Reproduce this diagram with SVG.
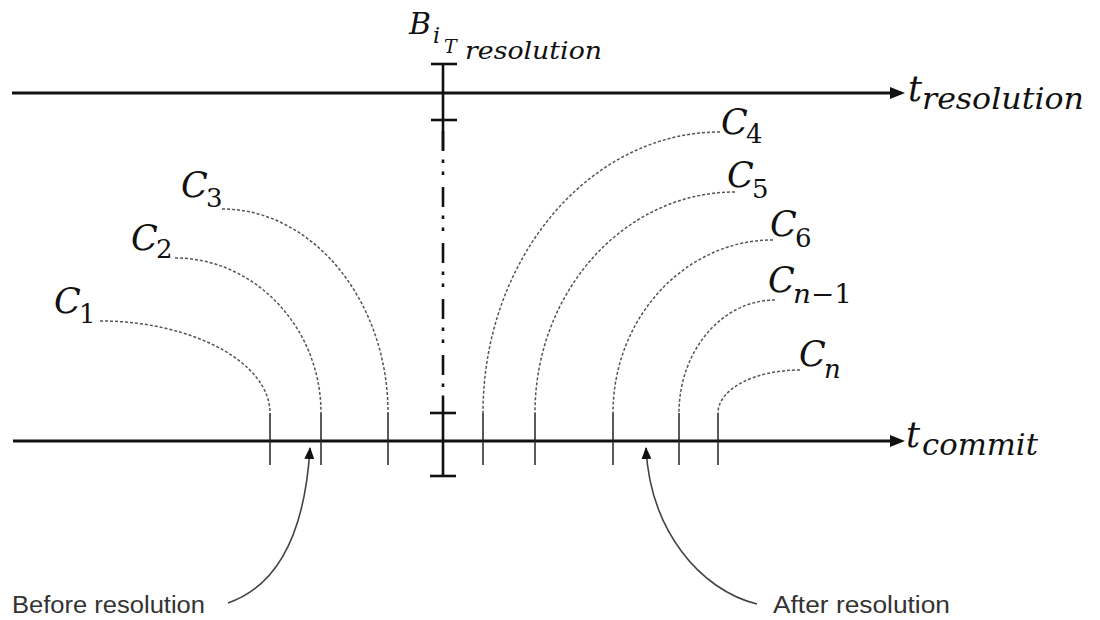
<svg xmlns="http://www.w3.org/2000/svg" width="1100" height="620" viewBox="0 0 1100 620">
<defs>
<style>
.m{font-family:"DejaVu Serif","Liberation Serif",serif;font-style:italic;fill:#111}
.d{font-family:"DejaVu Serif","Liberation Serif",serif;fill:#111}
.lbl{font-family:"Liberation Sans","Open Sans",sans-serif;font-size:23px;fill:#333}
.axis{stroke:#111;stroke-width:3;fill:none}
.bar{stroke:#111;stroke-width:2.6;fill:none}
.tick{stroke:#222;stroke-width:1.5;fill:none}
.cur{stroke:#555;stroke-width:1.5;stroke-dasharray:3 2;fill:none}
.call{stroke:#444;stroke-width:1.6;fill:none}
</style>
<marker id="ah" viewBox="0 0 12 10" refX="11" refY="5" markerWidth="12" markerHeight="10" markerUnits="userSpaceOnUse" orient="auto">
<path d="M0,0 L12,5 L0,10 z" fill="#111"/>
</marker>
</defs>
<rect width="1100" height="620" fill="#fff"/>

<g id="axis-resolution">
<line class="axis" x1="12" y1="93" x2="892" y2="93"/>
<polygon points="890,87 905,93 890,99" fill="#111"/>
<text class="m" x="908" y="101" font-size="35">t</text>
<text class="m" x="922" y="109" font-size="30" textLength="162" lengthAdjust="spacingAndGlyphs">resolution</text>
</g>

<g id="axis-commit">
<line class="axis" x1="13" y1="441" x2="892" y2="441"/>
<polygon points="890,435 905,441 890,447" fill="#111"/>
<text class="m" x="906" y="447" font-size="35">t</text>
<text class="m" x="922" y="455" font-size="30" textLength="116" lengthAdjust="spacingAndGlyphs">commit</text>
</g>

<g id="block-resolution">
<line class="bar" x1="443" y1="63" x2="443" y2="150"/>
<line class="bar" x1="443" y1="131" x2="443" y2="398" stroke-dasharray="20 8.5 3.5 8.5 3.5 12"/>
<line class="bar" x1="443" y1="398" x2="443" y2="477"/>
<line class="bar" x1="431" y1="64" x2="457" y2="64"/>
<line class="bar" x1="431" y1="120" x2="457" y2="120"/>
<line class="bar" x1="430" y1="413" x2="456" y2="413"/>
<line class="bar" x1="430" y1="476" x2="456" y2="476"/>
<text class="m" x="409" y="34" font-size="30">B</text>
<text class="m" x="433" y="43" font-size="22">i</text>
<text class="m" x="444" y="53" font-size="19">T</text>
<text class="m" x="465" y="59" font-size="25" textLength="137" lengthAdjust="spacingAndGlyphs">resolution</text>
</g>

<g id="connectors">
<path class="cur" d="M100,321 C193,321 270,363 270,413"/>
<path class="cur" d="M175,258 C255,258 321,328 321,413"/>
<path class="cur" d="M222,209 C313,209 388,301 388,413"/>
<path class="cur" d="M720,132 C590,132 483,258 483,413"/>
<path class="cur" d="M735,192 C625,192 535,291 535,413"/>
<path class="cur" d="M773,240 C685,240 613,318 613,413"/>
<path class="cur" d="M775,300 C722,300 679,351 679,413"/>
<path class="cur" d="M800,370 C755,370 718,389 718,413"/>
<line class="tick" x1="270" y1="413" x2="270" y2="465"/>
<line class="tick" x1="321" y1="413" x2="321" y2="465"/>
<line class="tick" x1="388" y1="413" x2="388" y2="465"/>
<line class="tick" x1="483" y1="413" x2="483" y2="465"/>
<line class="tick" x1="535" y1="413" x2="535" y2="465"/>
<line class="tick" x1="613" y1="413" x2="613" y2="465"/>
<line class="tick" x1="679" y1="413" x2="679" y2="465"/>
<line class="tick" x1="718" y1="413" x2="718" y2="465"/>
<path class="call" d="M228,603 C280,585 305,530 310,448" marker-end="url(#ah)"/>
<path class="call" d="M757,604 C700,590 650,530 646,448" marker-end="url(#ah)"/>
</g>

<g id="c1"><text class="m" x="54" y="313" font-size="35">C</text><text class="d" x="79" y="323" font-size="26">1</text></g>
<g id="c2"><text class="m" x="131" y="250" font-size="35">C</text><text class="d" x="156" y="258" font-size="26">2</text></g>
<g id="c3"><text class="m" x="181" y="197" font-size="35">C</text><text class="d" x="206" y="207" font-size="26">3</text></g>
<g id="c4"><text class="m" x="721" y="134" font-size="35">C</text><text class="d" x="746" y="143" font-size="26">4</text></g>
<g id="c5"><text class="m" x="727" y="187" font-size="35">C</text><text class="d" x="752" y="198" font-size="26">5</text></g>
<g id="c6"><text class="m" x="770" y="236" font-size="35">C</text><text class="d" x="795" y="247" font-size="26">6</text></g>
<g id="cn1"><text class="m" x="768" y="292" font-size="35">C</text><text x="793" y="303" font-size="26" textLength="59" lengthAdjust="spacingAndGlyphs"><tspan class="m">n</tspan><tspan class="d">−1</tspan></text></g>
<g id="cn"><text class="m" x="799" y="366" font-size="35">C</text><text class="m" x="824" y="378" font-size="26">n</text></g>

<g id="before"><text class="lbl" x="12" y="613" textLength="193" lengthAdjust="spacingAndGlyphs">Before resolution</text></g>
<g id="after"><text class="lbl" x="773" y="613" textLength="177" lengthAdjust="spacingAndGlyphs">After resolution</text></g>
</svg>
